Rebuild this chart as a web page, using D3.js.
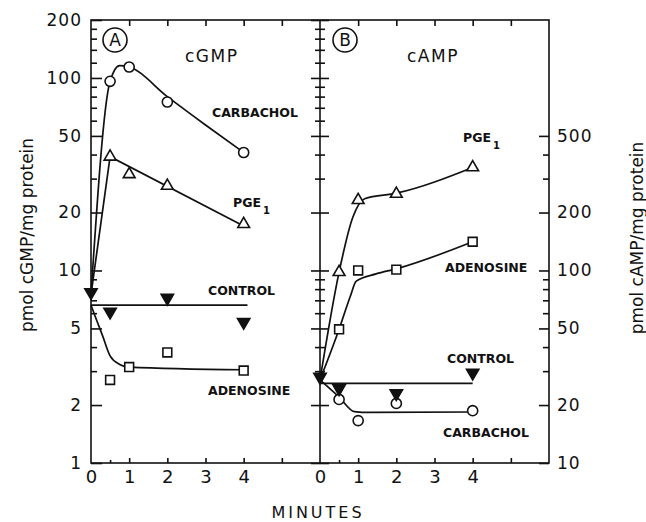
<!DOCTYPE html>
<html>
<head>
<script src="https://cdn.jsdelivr.net/npm/d3@7"></script>
<style>
body { margin: 0; background: #fff; }
svg text { font-family: "DejaVu Sans", sans-serif; fill: #111; }
.lbl { font-weight: bold; font-size: 12.5px; }
.tk text { font-size: 17px; letter-spacing: 1px; }
</style>
</head>
<body>
<svg id="chart" width="646" height="522"></svg>
<script>
// marker times (minutes)
var markerTimes = [0.5, 1, 2, 4];
var controlTimes = [0, 0.5, 2, 4];

// panel A - cGMP (pmol/mg protein)
var cgmpCarbachol = [96, 114, 75, 41];
var cgmpPGE1 = [39, 31.6, 27.5, 17.4];
var cgmpControl = [7.7, 6.1, 7.2, 5.4];
var cgmpAdenosine = [2.7, 3.15, 3.75, 3.02];

// panel B - cAMP (pmol/mg protein)
var campPGE1 = [98, 232, 250, 343];
var campAdenosine = [49.5, 100, 101, 141];
var campControl = [28, 24.4, 23, 29.4];
var campCarbachol = [21.4, 16.6, 20.4, 18.7];

// drawn curves as [minutes, value]
var cgmpCarbacholFit = [[0, 7.5], [0.5, 96], [0.75, 116], [1, 114], [2, 80], [3, 57], [4, 41]];
var cgmpPGE1Fit = [[0, 7.5], [0.5, 39], [4, 17]];
var cgmpControlFit = [[0, 6.6], [4.1, 6.6]];
var cgmpAdenosineFit = [[0, 6.6], [0.15, 5.5], [0.3, 4.6], [0.5, 3.6], [0.75, 3.25], [1, 3.15], [4, 3.05]];
var campPGE1Fit = [[0, 27], [0.5, 98], [0.86, 189], [1.17, 236], [2, 252], [4, 343]];
var campAdenosineFit = [[0, 27], [0.5, 49.5], [0.79, 73], [0.95, 88], [1.47, 96], [2, 102], [4, 141]];
var campControlFit = [[0, 25.9], [4, 25.9]];
var campCarbacholFit = [[0, 27], [0.5, 22], [0.9, 18.5], [1.3, 18.3], [4, 18.4]];

// tick values
var cgmpTicks = [1, 2, 3, 4, 5, 6, 7, 8, 9, 10, 20, 30, 40, 50, 60, 70, 80, 90, 100, 120, 140, 160, 180, 200];
var cgmpLabels = [1, 2, 5, 10, 20, 50, 100, 200];
var campTicks = [10, 20, 30, 40, 50, 60, 70, 80, 90, 100, 200, 300, 400, 500];
var campLabels = [10, 20, 50, 100, 200, 500];
var minuteTicks = [0, 0.5, 1, 2, 3, 4, 5];
var minuteLabels = [0, 1, 2, 3, 4];

var svg = d3.select("#chart");

var xA = d3.scaleLinear().domain([0, 6]).range([91, 320]);
var xB = d3.scaleLinear().domain([0, 6]).range([320, 549]);
var yA = d3.scaleLog().domain([1, 200]).range([463, 20]);
var yB = d3.scaleLog().domain([10, 2000]).range([463, 20]);

// frame + divider
svg.append("rect")
  .attr("x", xA(0)).attr("y", yA(200))
  .attr("width", xB(6) - xA(0)).attr("height", yA(1) - yA(200))
  .attr("fill", "none").attr("stroke", "#111").attr("stroke-width", 1.6);
svg.append("line")
  .attr("x1", xA(6)).attr("x2", xA(6)).attr("y1", yA(200)).attr("y2", yA(1))
  .attr("stroke", "#111").attr("stroke-width", 1.6);

// left axis, ticks inward
var gl = svg.append("g").attr("class", "tk").attr("transform", "translate(" + xA(0) + ",0)")
  .call(d3.axisLeft(yA).tickValues(cgmpTicks)
    .tickFormat(function(d) { return cgmpLabels.indexOf(d) >= 0 ? d : ""; })
    .tickSize(0).tickPadding(9));
gl.select(".domain").remove();
gl.selectAll(".tick line").attr("x2", function(d) { return cgmpLabels.indexOf(d) >= 0 ? 11 : 6; });

// right axis, ticks inward
var gr = svg.append("g").attr("class", "tk").attr("transform", "translate(" + xB(6) + ",0)")
  .call(d3.axisRight(yB).tickValues(campTicks)
    .tickFormat(function(d) { return campLabels.indexOf(d) >= 0 ? d : ""; })
    .tickSize(0).tickPadding(8));
gr.select(".domain").remove();
gr.selectAll(".tick line").attr("x2", function(d) { return campLabels.indexOf(d) >= 0 ? -10 : -6; });

// divider ticks on both sides
var gd = svg.append("g").attr("transform", "translate(" + xA(6) + ",0)")
  .call(d3.axisLeft(yA).tickValues(cgmpTicks).tickFormat("").tickSize(0));
gd.select(".domain").remove();
gd.selectAll(".tick line")
  .attr("x1", function(d) { return cgmpLabels.indexOf(d) >= 0 ? -9 : -5; })
  .attr("x2", function(d) { return cgmpLabels.indexOf(d) >= 0 ? 9 : 5; });

// minute axes
[xA, xB].forEach(function(x) {
  var gb = svg.append("g").attr("class", "tk").attr("transform", "translate(0," + yA(1) + ")")
    .call(d3.axisBottom(x).tickValues(minuteTicks)
      .tickFormat(function(d) { return minuteLabels.indexOf(d) >= 0 ? d : ""; })
      .tickSize(0).tickPadding(7));
  gb.select(".domain").remove();
  gb.selectAll(".tick text").style("font-size", "18px").style("letter-spacing", "0px");
  gb.selectAll(".tick line").attr("y2", function(d) { return d === 0 ? 0 : (d % 1 ? -3 : -5); });

  var gt = svg.append("g").attr("transform", "translate(0," + yA(200) + ")")
    .call(d3.axisTop(x).tickValues([1, 2, 3, 4, 5]).tickFormat("").tickSize(0));
  gt.select(".domain").remove();
  gt.selectAll(".tick line").attr("y2", 6);
});
svg.selectAll(".tick line").attr("stroke", "#111").attr("stroke-width", 1.6);

// curves and markers
function drawSeries(x, y, fit, curve, times, values, kind) {
  var line = d3.line()
    .x(function(d) { return x(d[0]); })
    .y(function(d) { return y(d[1]); })
    .curve(curve);
  svg.append("path").datum(fit).attr("d", line)
    .attr("fill", "none").attr("stroke", "#111").attr("stroke-width", 1.7);

  var sym = {
    circle: d3.symbol(d3.symbolCircle, 80),
    up: d3.symbol(d3.symbolTriangle, 60),
    square: d3.symbol(d3.symbolSquare, 78),
    down: d3.symbol(d3.symbolTriangle, 66)
  }[kind];
  svg.append("g").selectAll("path").data(times)
    .enter().append("path")
    .attr("d", sym)
    .attr("transform", function(t, i) {
      return "translate(" + x(t) + "," + y(values[i]) + ")" + (kind === "down" ? " rotate(180)" : "");
    })
    .attr("fill", kind === "down" ? "#111" : "#fff")
    .attr("stroke", "#111").attr("stroke-width", 1.6);
}

drawSeries(xA, yA, cgmpCarbacholFit, d3.curveMonotoneX, markerTimes, cgmpCarbachol, "circle");
drawSeries(xA, yA, cgmpPGE1Fit, d3.curveLinear, markerTimes, cgmpPGE1, "up");
drawSeries(xA, yA, cgmpAdenosineFit, d3.curveMonotoneX, markerTimes, cgmpAdenosine, "square");
drawSeries(xA, yA, cgmpControlFit, d3.curveLinear, controlTimes, cgmpControl, "down");

drawSeries(xB, yB, campPGE1Fit, d3.curveMonotoneX, markerTimes, campPGE1, "up");
drawSeries(xB, yB, campAdenosineFit, d3.curveMonotoneX, markerTimes, campAdenosine, "square");
drawSeries(xB, yB, campCarbacholFit, d3.curveMonotoneX, markerTimes, campCarbachol, "circle");
drawSeries(xB, yB, campControlFit, d3.curveLinear, controlTimes, campControl, "down");

// in-panel labels
function label(txt, x, y) {
  svg.append("text").attr("class", "lbl").attr("x", x).attr("y", y).text(txt);
}
function pge(x, y) {
  label("PGE", x, y);
  svg.append("text").attr("class", "lbl").attr("x", x + 30).attr("y", y + 7)
    .style("font-size", "10px").text("1");
}
label("CARBACHOL", 212, 117);
pge(233, 207);
label("CONTROL", 208, 295);
label("ADENOSINE", 208, 395);
pge(463, 142);
label("ADENOSINE", 445, 272);
label("CONTROL", 447, 363);
label("CARBACHOL", 443, 437);

svg.append("text").attr("x", 185).attr("y", 62).style("font-size", "17px").style("letter-spacing", "1.5px").text("cGMP");
svg.append("text").attr("x", 407).attr("y", 62).style("font-size", "17px").style("letter-spacing", "1.5px").text("cAMP");

[["A", 115], ["B", 345]].forEach(function(p) {
  svg.append("circle").attr("cx", p[1]).attr("cy", 40).attr("r", 12)
    .attr("fill", "none").attr("stroke", "#111").attr("stroke-width", 1.6);
  svg.append("text").attr("x", p[1]).attr("y", 46).attr("text-anchor", "middle")
    .style("font-size", "17px").text(p[0]);
});

// axis titles
svg.append("text").attr("transform", "translate(27,235) rotate(-90)")
  .attr("text-anchor", "middle").attr("dy", "0.35em").style("font-size", "17px")
  .text("pmol cGMP/mg protein");
svg.append("text").attr("transform", "translate(637,238) rotate(-90)")
  .attr("text-anchor", "middle").attr("dy", "0.35em").style("font-size", "17px")
  .text("pmol cAMP/mg protein");
svg.append("text").attr("x", 318).attr("y", 518).attr("text-anchor", "middle")
  .style("font-size", "16px").style("letter-spacing", "3px").text("MINUTES");
</script>
</body>
</html>
